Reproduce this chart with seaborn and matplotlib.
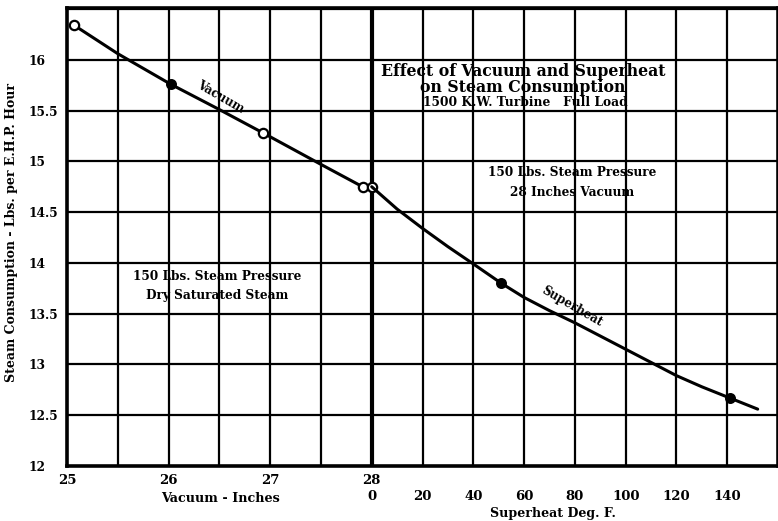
import matplotlib
matplotlib.use("Agg")
import matplotlib.pyplot as plt
import seaborn as sns
import pandas as pd

# ---- data ----
vacuum_line_in = [25.07, 25.5, 26.02, 26.5, 26.93, 27.5, 27.91, 28.0]
vacuum_line_steam = [16.34, 16.06, 15.76, 15.51, 15.28, 14.97, 14.75, 14.75]
vacuum_open_in = [25.07, 26.93, 27.91, 28.0]
vacuum_open_steam = [16.34, 15.28, 14.75, 14.75]
vacuum_filled_in = [26.02]
vacuum_filled_steam = [15.76]

superheat_line_deg = [0, 10, 20, 30, 40, 51, 60, 70, 80, 90, 100, 110, 120, 130, 141, 152]
superheat_line_steam = [14.75, 14.53, 14.34, 14.16, 13.99, 13.80, 13.66, 13.53, 13.41, 13.28,
                        13.15, 13.02, 12.89, 12.78, 12.67, 12.56]
superheat_filled_deg = [51, 141]
superheat_filled_steam = [13.80, 12.67]

vacuum_ticks = [25, 26, 27, 28]
superheat_ticks = [0, 20, 40, 60, 80, 100, 120, 140]
steam_ticks = [12, 12.5, 13, 13.5, 14, 14.5, 15, 15.5, 16]
steam_tick_labels = ["12", "12.5", "13", "13.5", "14", "14.5", "15", "15.5", "16"]

sns.set_theme(style="white")
plt.rcParams["font.family"] = ["DejaVu Serif"]
plt.rcParams["font.weight"] = "bold"
plt.rcParams["text.color"] = "black"
plt.rcParams["xtick.color"] = "black"
plt.rcParams["ytick.color"] = "black"

fig = plt.figure(figsize=(7.78, 5.21), dpi=100)
ax = fig.add_axes([67 / 778, 1 - 466 / 521, 1 - 67 / 778, (466 - 8) / 521])
ax.set_xlim(25, 32)
ax.set_ylim(12, 16.51)

# grid
for v in [25 + 0.5 * i for i in range(1, 14)]:
    ax.axvline(v, color="black", lw=3.0 if v == 28 else 1.6, zorder=1)
for s in [12 + 0.5 * i for i in range(1, 10)]:
    ax.axhline(s, color="black", lw=1.6, zorder=1)
for sp in ax.spines.values():
    sp.set_color("black")
    sp.set_linewidth(2.6)

ax2 = ax.twiny()
ax2.set_xlim(-120, 160)
for sp in ax2.spines.values():
    sp.set_visible(False)

vac_df = pd.DataFrame({"x": vacuum_line_in, "y": vacuum_line_steam})
sup_df = pd.DataFrame({"x": superheat_line_deg, "y": superheat_line_steam})
sns.lineplot(data=vac_df, x="x", y="y", ax=ax, color="black", lw=2.2, sort=False, zorder=3)
sns.lineplot(data=sup_df, x="x", y="y", ax=ax2, color="black", lw=2.2, sort=False, zorder=3)
sns.scatterplot(x=vacuum_open_in, y=vacuum_open_steam, ax=ax, s=45, color="white",
                edgecolor="black", linewidth=1.6, zorder=4)
sns.scatterplot(x=vacuum_filled_in, y=vacuum_filled_steam, ax=ax, s=45, color="black",
                edgecolor="black", linewidth=1.2, zorder=4)
sns.scatterplot(x=superheat_filled_deg, y=superheat_filled_steam, ax=ax2, s=45, color="black",
                edgecolor="black", linewidth=1.2, zorder=4)

# ticks
ax.set_yticks(steam_ticks)
ax.set_yticklabels(steam_tick_labels, fontsize=8.8, fontweight="bold", ha="left")
ax.set_xticks(vacuum_ticks)
ax.set_xticklabels([str(t) for t in vacuum_ticks], fontsize=9.5, fontweight="bold")
ax.tick_params(axis="x", length=0, pad=6)
ax.tick_params(axis="y", length=0, pad=28)
ax.set_xlabel("")
ax.set_ylabel("")
ax2.xaxis.set_ticks_position("bottom")
ax2.set_xticks(superheat_ticks)
ax2.set_xticklabels([str(t) for t in superheat_ticks], fontsize=9.5, fontweight="bold")
ax2.tick_params(axis="x", length=0, pad=17)
ax2.set_xlabel("")
ax2.set_ylabel("")

fig.text(220 / 778, 1 - 498 / 521, "Vacuum - Inches", ha="center", va="center",
         fontsize=9.2, fontweight="bold")
fig.text(553 / 778, 1 - 513 / 521, "Superheat Deg. F.", ha="center", va="center",
         fontsize=9.1, fontweight="bold")
fig.text(12 / 778, 1 - 233 / 521, "Steam Consumption - Lbs. per E.H.P. Hour", rotation=90,
         ha="center", va="center", fontsize=9, fontweight="bold")

def at(px, py):
    return (px / 778, 1 - py / 521)

fig.text(*at(523, 71), "Effect of Vacuum and Superheat", ha="center", va="center",
         fontsize=11.3, fontweight="bold")
fig.text(*at(523, 87), "on Steam Consumption", ha="center", va="center",
         fontsize=11.3, fontweight="bold")
fig.text(*at(525, 103), "1500 K.W. Turbine   Full Load", ha="center", va="center",
         fontsize=8.8, fontweight="bold")
fig.text(*at(572, 173), "150 Lbs. Steam Pressure", ha="center", va="center",
         fontsize=8.7, fontweight="bold")
fig.text(*at(572, 192), "28 Inches Vacuum", ha="center", va="center",
         fontsize=8.7, fontweight="bold")
fig.text(*at(217, 277), "150 Lbs. Steam Pressure", ha="center", va="center",
         fontsize=8.7, fontweight="bold")
fig.text(*at(217, 295), "Dry Saturated Steam", ha="center", va="center",
         fontsize=8.7, fontweight="bold")
fig.text(*at(220, 97), "Vacuum", ha="center", va="center", rotation=-30,
         fontsize=8.5, fontweight="bold")
fig.text(*at(572, 306), "Superheat", ha="center", va="center", rotation=-30,
         fontsize=8.5, fontweight="bold")

fig.savefig("out.png", dpi=100, facecolor="white")
